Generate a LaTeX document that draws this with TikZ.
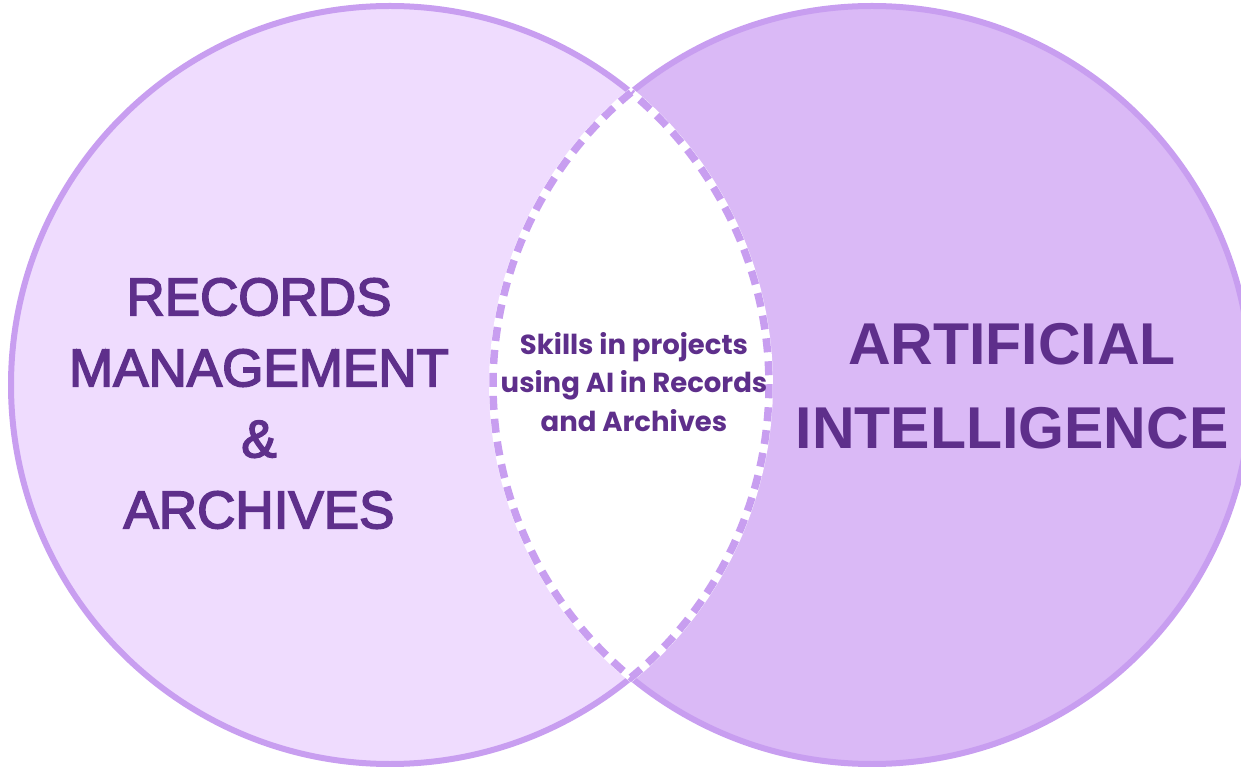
\documentclass[tikz,border=0pt]{standalone}
\usepackage{fontspec}
\setmainfont{Liberation Sans}
\newfontfamily\medfont{Liberation Sans}[FakeBold=3]
\newfontfamily\boldfont{Liberation Sans Bold}
\newfontfamily\smallfont{Poppins}
\definecolor{leftfill}{HTML}{EFDCFE}
\definecolor{rightfill}{HTML}{DAB9F6}
\definecolor{edge}{HTML}{C89EF0}
\definecolor{ink}{HTML}{5E2F8B}
\begin{document}
\begin{tikzpicture}[x=1pt,y=1pt,
  circ/.style={line width=6pt, draw=edge},
  lensfill/.style={fill=white, draw=white, line width=8pt},
  lensedge/.style={draw=edge, line width=7.5pt, dash pattern=on 14pt off 9pt},
  bigtext/.style={text=ink, align=center, inner sep=0pt}]
\useasboundingbox (0,0) rectangle (1241,766);
\clip (0,0) rectangle (1241,766);
\coordinate (L) at (390,381);
\coordinate (R) at (872,381);
\coordinate (T) at (631,673.5);
\coordinate (B) at (631,88.5);
\fill[leftfill] (L) circle[radius=379];
\fill[rightfill] (R) circle[radius=379];
\draw[circ] (L) circle[radius=379];
\draw[circ] (R) circle[radius=379];
\path[lensfill] (T) arc[start angle=129.49, end angle=230.51, radius=379]
  arc[start angle=-50.51, end angle=50.51, radius=379] -- cycle;
\path[lensedge] (T) arc[start angle=129.49, end angle=230.51, radius=379]
  arc[start angle=-50.51, end angle=50.51, radius=379] -- cycle;
\node[bigtext, font={\medfont\fontsize{53}{71}\selectfont}] (rma) at (259,362.5)
  {RECORDS\\MANAGEMENT\\\&\\ARCHIVES};
\node[bigtext, font={\boldfont\fontsize{59}{84}\selectfont}] (ai) at (1012,380)
  {ARTIFICIAL\\INTELLIGENCE};
\node[bigtext, font={\smallfont\bfseries\fontsize{27.5}{38.5}\selectfont}] (mid) at (634,384)
  {Skills in projects\\using AI in Records\\and Archives};
\end{tikzpicture}
\end{document}
